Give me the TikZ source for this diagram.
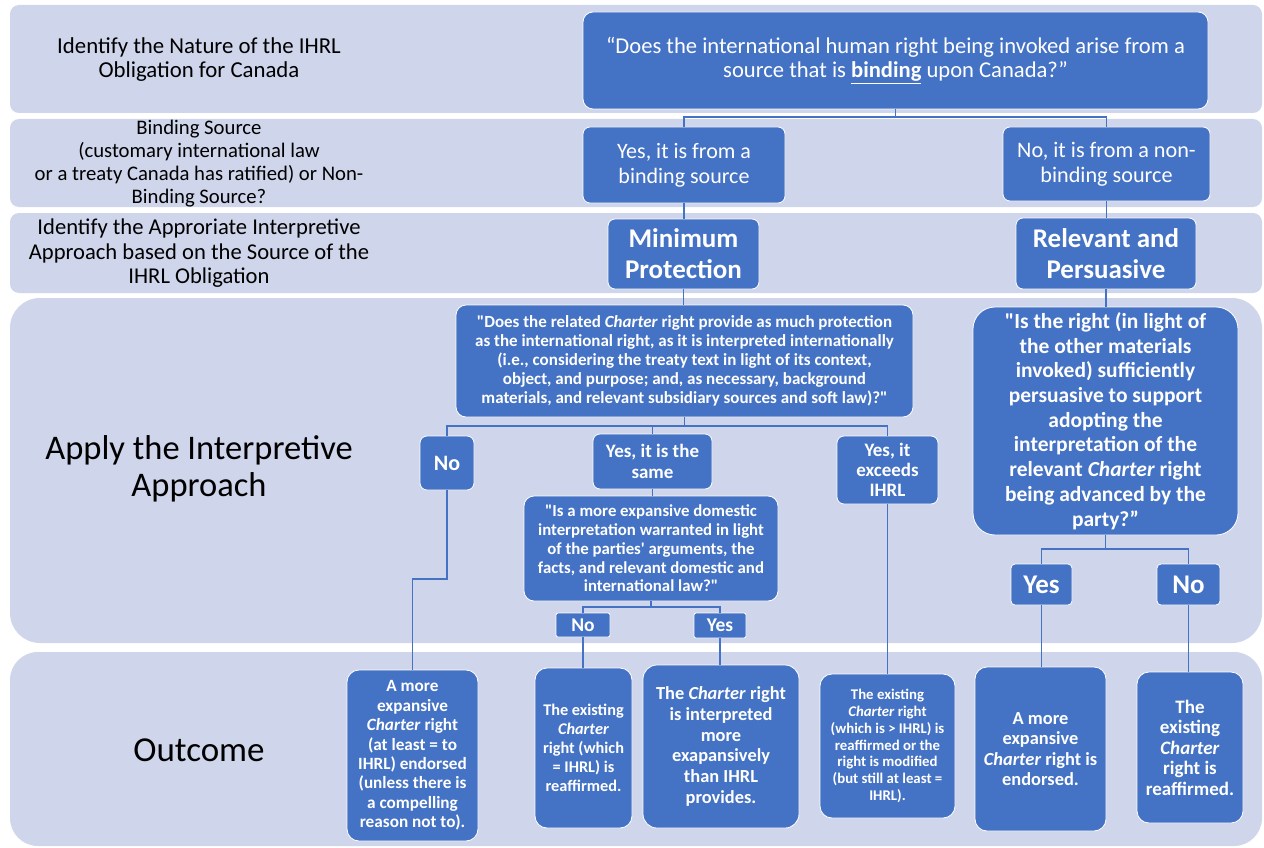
\documentclass[tikz,border=0pt]{standalone}
\usepackage{fontspec}
\setmainfont{Carlito}[Ligatures=TeXOff]
\usetikzlibrary{calc}
\definecolor{bandc}{HTML}{CFD5EA}
\definecolor{boxblue}{HTML}{4472C4}
\definecolor{linec}{HTML}{4472C4}
\newcommand{\fs}[2]{\fontsize{#1}{#2}\selectfont}
\begin{document}
\begin{tikzpicture}[x=1pt,y=-1pt,
  box/.style={fill=boxblue, draw=white, line width=0.8pt, rounded corners=7pt, text=white, align=center, inner sep=0pt},
  lbl/.style={text=black, align=center, inner sep=0pt},
  conn/.style={draw=linec, line width=1.3pt},
  bandfill/.style={fill=bandc}]
\useasboundingbox (0,0) rectangle (1264,848);
% bands
\fill[bandfill, rounded corners=9pt] (10,5) rectangle (1262,113);
\fill[bandfill, rounded corners=9pt] (10,119) rectangle (1262,207);
\fill[bandfill, rounded corners=9pt] (10,213) rectangle (1262,293);
\fill[bandfill, rounded corners=30pt] (10,298) rectangle (1262,643);
\fill[bandfill, rounded corners=28pt] (10,652) rectangle (1262,846);
% left labels
\node[lbl, font=\fs{22.8}{24}] (l1) at (199,60) {Identify the Nature of the IHRL\\Obligation for Canada};
\node[lbl, font=\fs{20.7}{23}] (l2) at (199,164) {Binding Source\\(customary international law\\or a treaty Canada has ratified) or Non-\\Binding Source?};
\node[lbl, font=\fs{22.6}{24.5}] (l3) at (199,253.5) {Identify the Approriate Interpretive\\Approach based on the Source of the\\IHRL Obligation};
\node[lbl, font=\fs{34.5}{37}] (l4) at (199,468.5) {Apply the Interpretive\\Approach};
\node[lbl, font=\fs{35}{37}] (l5) at (199,750) {Outcome};
% boxes
\node[box, minimum width=625, minimum height=97, rounded corners=10pt, font=\fs{22.6}{23.5}] (top) at (895.5,60.5) {“Does the international human right being invoked arise from a\\source that is \underline{\textbf{binding}} upon Canada?”};
\node[box, minimum width=202, minimum height=76, font=\fs{22}{25}] (yb) at (684,165) {Yes, it is from a\\binding source};
\node[box, minimum width=207, minimum height=74, font=\fs{22.2}{25}] (nb) at (1106.5,164) {No, it is from a non-\\binding source};
\node[box, minimum width=151, minimum height=70, font=\bfseries\fs{27}{31}] (minp) at (683.5,254) {Minimum\\Protection};
\node[box, minimum width=180, minimum height=71, font=\bfseries\fs{27}{31}] (relp) at (1106,253.5) {Relevant and\\Persuasive};
\node[box, minimum width=457, minimum height=112, rounded corners=10pt, font=\bfseries\fs{17}{19}] (q2) at (684.5,361) {"Does the related \emph{Charter} right provide as much protection\\as the international right, as it is interpreted internationally\\(i.e., considering the treaty text in light of its context,\\object, and purpose; and, as necessary, background\\materials, and relevant subsidiary sources and soft law)?"};
\node[box, minimum width=54, minimum height=54, font=\bfseries\fs{22}{24}] (no1) at (447,463) {No};
\node[box, minimum width=119, minimum height=55, font=\bfseries\fs{19}{21}] (same) at (652.5,461.5) {Yes, it is the\\same};
\node[box, minimum width=101, minimum height=68, font=\bfseries\fs{19}{20}] (exc) at (887.5,470) {Yes, it\\exceeds\\IHRL};
\node[box, minimum width=254, minimum height=105, rounded corners=10pt, font=\bfseries\fs{16.8}{18.7}] (q3) at (651,548.5) {"Is a more expansive domestic\\interpretation warranted in light\\of the parties' arguments, the\\facts, and relevant domestic and\\international law?"};
\node[box, minimum width=54, minimum height=24, rounded corners=2pt, font=\bfseries\fs{19.5}{21}] (no2) at (583,625) {No};
\node[box, minimum width=52, minimum height=25, rounded corners=2pt, font=\bfseries\fs{19.5}{21}] (yes2) at (720,625.5) {Yes};
\node[box, minimum width=265, minimum height=228, rounded corners=22pt, font=\bfseries\fs{21.5}{24.7}] (q4) at (1105.5,421) {"Is the right (in light of\\the other materials\\invoked) sufficiently\\persuasive to support\\adopting the\\interpretation of the\\relevant \emph{Charter} right\\being advanced by the\\party?”};
\node[box, minimum width=61, minimum height=41, rounded corners=4pt, font=\bfseries\fs{27}{29}] (yes3) at (1041.5,584.5) {Yes};
\node[box, minimum width=63, minimum height=41, rounded corners=4pt, font=\bfseries\fs{27}{29}] (no3) at (1188.5,584.5) {No};
% outcomes
\node[box, minimum width=131, minimum height=171, rounded corners=12pt, font=\bfseries\fs{17.2}{19.4}] (o1) at (412.5,755.5) {A more\\expansive\\\emph{Charter} right\\(at least = to\\IHRL) endorsed\\(unless there is\\a compelling\\reason not to).};
\node[box, minimum width=97, minimum height=160, rounded corners=12pt, font=\bfseries\fs{16.3}{19}] (o2) at (583.5,748) {The existing\\\emph{Charter}\\right (which\\= IHRL) is\\reaffirmed.};
\node[box, minimum width=156, minimum height=163, rounded corners=14pt, font=\bfseries\fs{18.4}{20.7}] (o3) at (721,746.5) {The \emph{Charter} right\\is interpreted\\more\\exapansively\\than IHRL\\provides.};
\node[box, minimum width=135, minimum height=144, rounded corners=12pt, font=\bfseries\fs{14.8}{16.8}] (o4) at (887.5,746) {The existing\\\emph{Charter} right\\(which is > IHRL) is\\reaffirmed or the\\right is modified\\(but still at least =\\IHRL).};
\node[box, minimum width=131, minimum height=164, rounded corners=12pt, font=\bfseries\fs{18.4}{20.3}] (o5) at (1040.5,749) {A more\\expansive\\\emph{Charter} right is\\endorsed.};
\node[box, minimum width=106, minimum height=151, rounded corners=12pt, font=\bfseries\fs{19}{20.5}] (o6) at (1190,747.5) {The\\existing\\\emph{Charter}\\right is\\reaffirmed.};
% junction coordinates
\coordinate (j1) at (0,117);
\coordinate (j2) at (0,426);
\coordinate (j3) at (0,579);
\coordinate (j4) at (0,607);
\coordinate (j5) at (0,549);
% connectors
\draw[conn] (top.south) -- (top.south |- j1) -| (yb.north);
\draw[conn] (top.south |- j1) -| (nb.north);
\draw[conn] (yb.south) -- (yb.south |- minp.north);
\draw[conn] (nb.south) -- (nb.south |- relp.north);
\draw[conn] (minp.south) -- (minp.south |- q2.north);
\draw[conn] (relp.south) -- (relp.south |- q4.north);
\draw[conn] (q2.south) -- (q2.south |- j2) -| (no1.north);
\draw[conn] (q2.south |- j2) -| (same.north);
\draw[conn] (q2.south |- j2) -| (exc.north);
\draw[conn] (no1.south) -- (no1.south |- j3) -| (o1.north);
\draw[conn] (same.south) -- (same.south |- q3.north);
\draw[conn] (q3.south) -- (q3.south |- j4) -| (no2.north);
\draw[conn] (q3.south |- j4) -| (yes2.north);
\draw[conn] (no2.south) -- (no2.south |- o2.north);
\draw[conn] (yes2.south) -- (yes2.south |- o3.north);
\draw[conn] (exc.south) -- (exc.south |- o4.north);
\draw[conn] (q4.south) -- (q4.south |- j5) -| (yes3.north);
\draw[conn] (q4.south |- j5) -| (no3.north);
\draw[conn] (yes3.south) -- (yes3.south |- o5.north);
\draw[conn] (no3.south) -- (no3.south |- o6.north);
\end{tikzpicture}
\end{document}
